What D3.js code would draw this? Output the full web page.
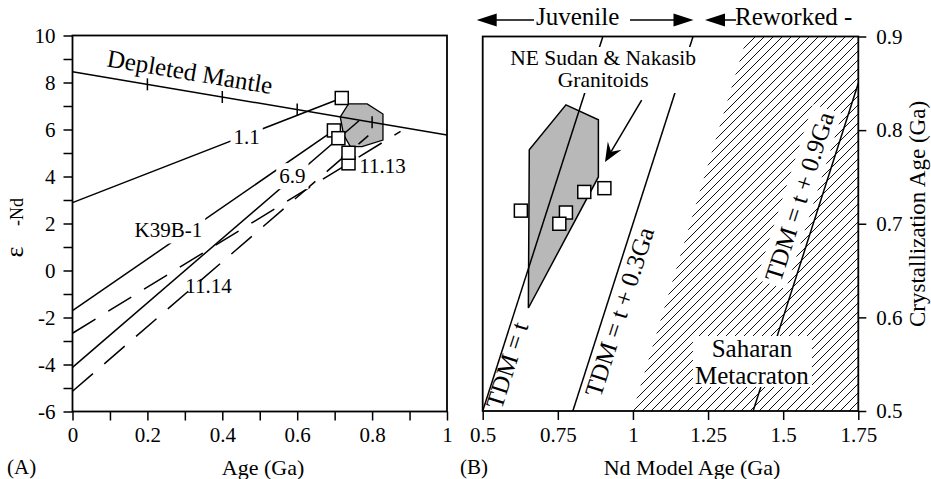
<!DOCTYPE html>
<html>
<head>
<meta charset="utf-8">
<script src="https://cdn.jsdelivr.net/npm/d3@7"></script>
<style>
  body { margin: 0; background: #fff; }
  svg { display: block; font-family: "Liberation Serif", "Times New Roman", serif; }
</style>
</head>
<body>
<svg id="chart" width="931" height="479"></svg>
<script>
// ---------- Panel A: epsilon-Nd versus age ----------
const ageTicksA = d3.range(0, 11).map(i => i / 10);
const ageLabelsA = ["0", "", "0.2", "", "0.4", "", "0.6", "", "0.8", "", "1"];
const epsTicks = d3.range(-6, 11);

// depleted mantle evolution
const dmAges = [0, 1];
const dmEps = [8.46, 5.77];
const dmMarkAges = [0.2, 0.4, 0.6, 0.8];

// sample evolution lines: present-day value, crystallisation point, line end
const samples = ["1.1", "K39B-1", "6.9", "11.13", "11.14"];
const epsToday = [2.89, -1.71, -4.12, -2.67, -5.14];
const crystAges = [0.719, 0.698, 0.71, 0.737, 0.737];
const epsInitial = [7.34, 5.96, 5.63, 4.56, 5.01];
const trendEndAge = [0.719, 0.698, 0.765, 0.876, 0.79];
const trendEndEps = [7.34, 5.96, 6.37, 5.92, 5.74];
const trendDashed = [false, false, false, true, true];
const labelAge = [0.465, 0.256, 0.587, 0.828, 0.363];
const labelEps = [5.69, 1.72, 4.03, 4.46, -0.65];
const labelKnockout = [true, true, true, false, false];

// shaded granitoid field
const fieldA_age = [0.715, 0.737, 0.787, 0.829, 0.829, 0.773, 0.742, 0.724];
const fieldA_eps = [6.54, 7.09, 7.09, 6.66, 5.55, 5.27, 5.27, 5.77];

// ---------- Panel B: crystallisation age versus Nd model age ----------
const modelAgeTicks = [0.5, 0.75, 1, 1.25, 1.5, 1.75];
const modelAgeLabels = ["0.5", "0.75", "1", "1.25", "1.5", "1.75"];
const crystTicks = [0.5, 0.6, 0.7, 0.8, 0.9];
const crystLabels = ["0.5", "0.6", "0.7", "0.8", "0.9"];

const tdmOffsets = [0, 0.3, 0.9];
const tdmLabels = ["TDM = t", "TDM = t + 0.3Ga", "TDM = t + 0.9Ga"];
const tdmLabelTdm = [0.58, 0.954, 1.553];
const tdmLabelAge = [0.549, 0.606, 0.729];
const tdmLabelKnockout = [false, false, true];

const fieldB_tdm = [0.777, 0.885, 0.885, 0.652, 0.655];
const fieldB_age = [0.827, 0.811, 0.750, 0.610, 0.779];
const granitoidTdm = [0.627, 0.777, 0.755, 0.838, 0.905];
const granitoidAge = [0.714, 0.712, 0.700, 0.734, 0.738];

const cratonTdm = [1.0, 1.38, 1.75, 1.75];
const cratonAge = [0.5, 0.9, 0.9, 0.5];

const calloutFrom = [1.029, 0.832];
const calloutTo = [0.907, 0.766];

// ---------- drawing ----------
const svg = d3.select("#chart");
const TICK_FONT = 21;

const xA = d3.scaleLinear().domain([0, 1]).range([72.5, 447]);
const yA = d3.scaleLinear().domain([-6, 10]).range([411.5, 35.5]);
const xB = d3.scaleLinear().domain([0.5, 1.75]).range([482.7, 858.3]);
const yB = d3.scaleLinear().domain([0.5, 0.9]).range([411, 36.5]);

const defs = svg.append("defs");
const pat = defs.append("pattern")
  .attr("id", "hatch")
  .attr("patternUnits", "userSpaceOnUse")
  .attr("width", 9).attr("height", 9);
pat.append("path")
  .attr("d", "M-2,2 L2,-2 M0,9 L9,0 M7,11 L11,7")
  .attr("stroke", "#111").attr("stroke-width", 1);

function styleAxis(g) {
  g.attr("font-family", null).attr("font-size", null);
  g.select(".domain").remove();
  g.selectAll(".tick line").attr("stroke", "#000").attr("stroke-width", 1.5);
  g.selectAll(".tick text").style("font-size", TICK_FONT + "px").attr("fill", "#000");
}

// label with an optional white box behind it
function knockLabel(parent, x, y, text, size, angle, pad, withBox) {
  const g = parent.append("g").attr("transform", `translate(${x},${y}) rotate(${angle})`);
  const t = g.append("text")
    .attr("text-anchor", "middle")
    .attr("dy", "0.35em")
    .style("font-size", size + "px")
    .text(text);
  if (withBox) {
    const b = t.node().getBBox();
    g.insert("rect", "text")
      .attr("x", b.x - pad).attr("y", b.y + 2 - pad)
      .attr("width", b.width + 2 * pad).attr("height", b.height - 4 + 2 * pad)
      .attr("fill", "#fff");
  }
  return g;
}

// ===== Panel A =====
const gA = svg.append("g");
const dmScale = d3.scaleLinear().domain(dmAges).range(dmEps);

gA.append("path")
  .datum(d3.zip(fieldA_age, fieldA_eps))
  .attr("d", d3.line().x(d => xA(d[0])).y(d => yA(d[1])).curve(d3.curveLinearClosed))
  .attr("fill", "#b8b8b8").attr("stroke", "#000").attr("stroke-width", 1.3);

// depleted mantle line and its age marks
gA.append("line")
  .attr("x1", xA(dmAges[0])).attr("y1", yA(dmEps[0]))
  .attr("x2", xA(dmAges[1])).attr("y2", yA(dmEps[1]))
  .attr("stroke", "#000").attr("stroke-width", 1.5);
gA.selectAll(".dmmark").data(dmMarkAges).join("line")
  .attr("x1", d => xA(d)).attr("x2", d => xA(d))
  .attr("y1", d => yA(dmScale(d)) - 6).attr("y2", d => yA(dmScale(d)) + 6)
  .attr("stroke", "#000").attr("stroke-width", 1.5);

const dmAngle = Math.atan2(yA(dmEps[1]) - yA(dmEps[0]), xA(dmAges[1]) - xA(dmAges[0])) * 180 / Math.PI;
gA.append("g")
  .attr("transform", `translate(${xA(0.305)},${yA(dmScale(0.305))}) rotate(${dmAngle})`)
  .append("text")
  .attr("text-anchor", "middle").attr("y", -11)
  .style("font-size", "25px")
  .text("Depleted Mantle");

// sample evolution lines
samples.forEach((s, i) => {
  gA.append("line")
    .attr("x1", xA(0)).attr("y1", yA(epsToday[i]))
    .attr("x2", xA(trendEndAge[i])).attr("y2", yA(trendEndEps[i]))
    .attr("stroke", "#000").attr("stroke-width", 1.5)
    .attr("stroke-dasharray", trendDashed[i] ? "27 15" : null);
});
samples.forEach((s, i) => {
  knockLabel(gA, xA(labelAge[i]), yA(labelEps[i]), s, TICK_FONT, 0, 3, labelKnockout[i]);
});
gA.selectAll(".sq").data(samples.map((s, i) => i)).join("rect")
  .attr("x", i => xA(crystAges[i]) - 6.5).attr("y", i => yA(epsInitial[i]) - 6.5)
  .attr("width", 13).attr("height", 13)
  .attr("fill", "#fff").attr("stroke", "#000").attr("stroke-width", 1.5);

// axes
gA.append("g").attr("transform", `translate(${xA(0)},0)`)
  .call(d3.axisLeft(yA).tickValues(epsTicks).tickSize(9).tickPadding(8)
    .tickFormat(d => (d % 2 === 0 ? String(d) : "")))
  .call(styleAxis);
gA.append("g").attr("transform", `translate(0,${yA(-6)})`)
  .call(d3.axisBottom(xA).tickValues(ageTicksA).tickSize(9).tickPadding(7)
    .tickFormat((d, i) => ageLabelsA[i]))
  .call(styleAxis);
gA.append("rect")
  .attr("x", xA(0)).attr("y", yA(10))
  .attr("width", xA(1) - xA(0)).attr("height", yA(-6) - yA(10))
  .attr("fill", "none").attr("stroke", "#000").attr("stroke-width", 1.8);

// titles
svg.append("text").attr("x", 263).attr("y", 475).attr("text-anchor", "middle")
  .style("font-size", "22px").text("Age (Ga)");
svg.append("text").attr("x", 7).attr("y", 474).style("font-size", "21px").text("(A)");
svg.append("text").attr("transform", "translate(23,252) rotate(-90)")
  .attr("text-anchor", "middle").style("font-size", "26px").text("ε");
svg.append("text").attr("transform", "translate(23,212) rotate(-90)")
  .attr("text-anchor", "middle").style("font-size", "18px").text("-Nd");

// ===== Panel B =====
const gB = svg.append("g");
const layerHatch = gB.append("g");
const layerBg = gB.append("g");
const layerField = gB.append("g");
const layerLines = gB.append("g");
const layerBoxes = gB.append("g");
const layerText = gB.append("g");
const layerMarks = gB.append("g");

layerHatch.append("path")
  .datum(d3.zip(cratonTdm, cratonAge))
  .attr("d", d3.line().x(d => xB(d[0])).y(d => yB(d[1])).curve(d3.curveLinearClosed))
  .attr("fill", "url(#hatch)").attr("stroke", "none");

layerField.append("path")
  .datum(d3.zip(fieldB_tdm, fieldB_age))
  .attr("d", d3.line().x(d => xB(d[0])).y(d => yB(d[1])).curve(d3.curveLinearClosed))
  .attr("fill", "#b8b8b8").attr("stroke", "#000").attr("stroke-width", 1.5);

// TDM reference lines
tdmOffsets.forEach(o => {
  const t0 = 0.5, t1 = Math.min(0.9, 1.75 - o);
  layerLines.append("line")
    .attr("x1", xB(t0 + o)).attr("y1", yB(t0))
    .attr("x2", xB(t1 + o)).attr("y2", yB(t1))
    .attr("stroke", "#000").attr("stroke-width", 1.5);
});
const tdmAngle = -Math.atan2(yB(0.5) - yB(0.9), xB(0.9) - xB(0.5)) * 180 / Math.PI;
tdmLabels.forEach((lab, i) => {
  const host = tdmLabelKnockout[i] ? layerBg : layerText;
  knockLabel(host, xB(tdmLabelTdm[i]), yB(tdmLabelAge[i]), lab, 25, tdmAngle, 4, tdmLabelKnockout[i]);
});

// granitoid label with white backing
const neX = xB(0.901);
layerBoxes.append("rect").attr("x", 505).attr("y", 47).attr("width", 198).attr("height", 46).attr("fill", "#fff");
const neText = layerText.append("text").attr("text-anchor", "middle").style("font-size", "21.5px");
neText.append("tspan").attr("x", neX).attr("y", 64.5).text("NE Sudan & Nakasib");
neText.append("tspan").attr("x", neX).attr("y", 87).text("Granitoids");

// metacraton label with white backing
const smX = xB(1.396);
layerBoxes.append("rect").attr("x", smX - 59).attr("y", 336).attr("width", 119).attr("height", 51).attr("fill", "#fff");
const smText = layerText.append("text").attr("text-anchor", "middle").style("font-size", "25px");
smText.append("tspan").attr("x", smX).attr("y", 357).text("Saharan");
smText.append("tspan").attr("x", smX).attr("y", 383.5).text("Metacraton");

// callout arrow to the granitoid field
{
  const x1 = xB(calloutFrom[0]), y1 = yB(calloutFrom[1]);
  const x2 = xB(calloutTo[0]), y2 = yB(calloutTo[1]);
  const ang = Math.atan2(y2 - y1, x2 - x1);
  const ux = Math.cos(ang), uy = Math.sin(ang), px = -uy, py = ux;
  const L = 19, W = 8, N = 12;
  layerText.append("line").attr("x1", x1).attr("y1", y1)
    .attr("x2", x2 - ux * N).attr("y2", y2 - uy * N)
    .attr("stroke", "#000").attr("stroke-width", 1.5);
  const pts = [
    [x2, y2],
    [x2 - ux * L + px * W, y2 - uy * L + py * W],
    [x2 - ux * N, y2 - uy * N],
    [x2 - ux * L - px * W, y2 - uy * L - py * W]
  ];
  layerText.append("path").attr("d", "M" + pts.map(p => p.join(",")).join("L") + "Z").attr("fill", "#000");
}

layerMarks.selectAll(".sqb").data(granitoidTdm.map((d, i) => i)).join("rect")
  .attr("x", i => xB(granitoidTdm[i]) - 6.5).attr("y", i => yB(granitoidAge[i]) - 6.5)
  .attr("width", 13).attr("height", 13)
  .attr("fill", "#fff").attr("stroke", "#000").attr("stroke-width", 1.5);

// axes
gB.append("g").attr("transform", `translate(0,${yB(0.5)})`)
  .call(d3.axisBottom(xB).tickValues(modelAgeTicks).tickSize(9).tickPadding(7)
    .tickFormat((d, i) => modelAgeLabels[i]))
  .call(styleAxis);
gB.append("g").attr("transform", `translate(${xB(1.75)},0)`)
  .call(d3.axisRight(yB).tickValues(crystTicks).tickSize(8).tickPadding(10)
    .tickFormat((d, i) => crystLabels[i]))
  .call(styleAxis);
gB.append("rect")
  .attr("x", xB(0.5)).attr("y", yB(0.9))
  .attr("width", xB(1.75) - xB(0.5)).attr("height", yB(0.5) - yB(0.9))
  .attr("fill", "none").attr("stroke", "#000").attr("stroke-width", 1.8);

svg.append("text").attr("x", 692).attr("y", 475).attr("text-anchor", "middle")
  .style("font-size", "22px").text("Nd Model Age (Ga)");
svg.append("text").attr("x", 460).attr("y", 474).style("font-size", "21px").text("(B)");
svg.append("text").attr("transform", "translate(925,214) rotate(-90)")
  .attr("text-anchor", "middle").style("font-size", "23px").text("Crystallization Age (Ga)");

// juvenile / reworked header with arrows
const head = svg.append("g");
const hy = 20;
function arrowHead(tipX, dir) {
  const base = tipX - dir * 20;
  head.append("path").attr("d", `M${tipX},${hy} L${base},${hy - 6.5} L${base},${hy + 6.5} Z`).attr("fill", "#000");
}
head.append("line").attr("x1", 496).attr("x2", 534).attr("y1", hy).attr("y2", hy).attr("stroke", "#000").attr("stroke-width", 1.5);
arrowHead(476.7, -1);
head.append("text").attr("x", 536).attr("y", 25).style("font-size", "25px").text("Juvenile");
head.append("line").attr("x1", 630).attr("x2", 675).attr("y1", hy).attr("y2", hy).attr("stroke", "#000").attr("stroke-width", 1.5);
arrowHead(693.5, 1);
arrowHead(705, -1);
head.append("line").attr("x1", 724).attr("x2", 736).attr("y1", hy).attr("y2", hy).attr("stroke", "#000").attr("stroke-width", 1.5);
head.append("text").attr("x", 735).attr("y", 25).style("font-size", "25px").text("Reworked -");
</script>
</body>
</html>
